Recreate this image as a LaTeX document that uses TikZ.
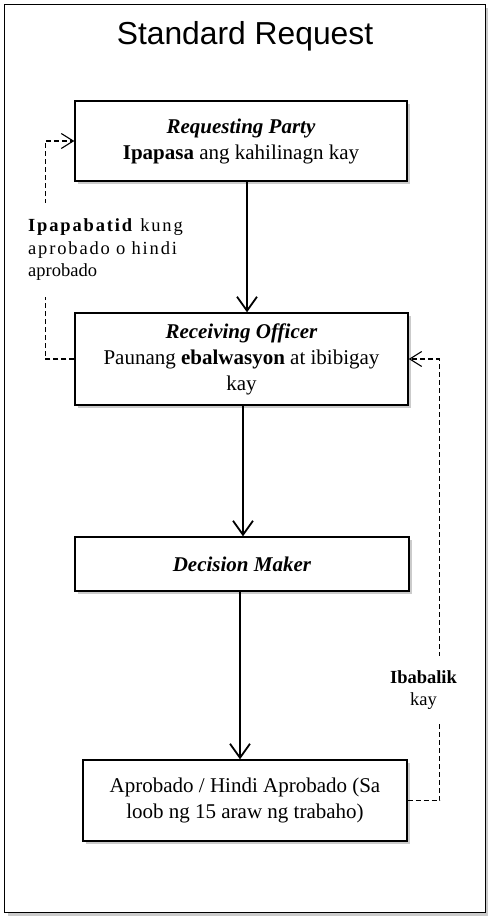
\documentclass[tikz,border=0pt]{standalone}
\usepackage{fontspec}
\setmainfont{Liberation Serif}
\newfontfamily\arialf{Liberation Sans}
\usetikzlibrary{arrows.meta,shadows}
\begin{document}
\begin{tikzpicture}[x=1pt,y=-1pt,
  shad/.style={drop shadow={shadow xshift=3pt,shadow yshift=-3pt,fill=black!45,opacity=0.45}},
  box/.style={draw, line width=1.4pt, fill=white, align=center, inner sep=0pt, shad,
    font=\fontsize{21}{26}\selectfont},
  flow/.style={line width=1.8pt, -{Straight Barb[length=14pt,width=20pt,line width=1.8pt]}},
  back/.style={line width=1.1pt, dash pattern=on 5pt off 3pt, -{Straight Barb[length=12pt,width=15pt,line width=1.1pt]}},
  lbl/.style={fill=white, inner xsep=0pt, font=\fontsize{18.5}{22.5}\selectfont}
]
\useasboundingbox (0,0) rectangle (487,920);
\node[draw, line width=1.4pt, fill=white, shad, minimum width=481pt, minimum height=908pt, inner sep=0pt, anchor=north west] (frame) at (4,4) {};
\node[font=\arialf\fontsize{31.8}{36}\selectfont, anchor=base, inner sep=0pt] (title) at (245,45) {Standard Request};
\node[box, minimum width=332pt, minimum height=80pt] (b1) at (241,141)
  {\textbf{\textit{Requesting Party}}\\\textbf{Ipapasa} ang kahilinagn kay};
\node[box, minimum width=333pt, minimum height=92pt] (b2) at (241.5,359)
  {\textbf{\textit{Receiving Officer}}\\Paunang \textbf{ebalwasyon} at ibibigay\\kay};
\node[box, minimum width=334pt, minimum height=54pt] (b3) at (242,564)
  {\textbf{\textit{Decision Maker}}};
\node[box, minimum width=324pt, minimum height=81pt] (b4) at (245,800.5)
  {Aprobado / Hindi Aprobado (Sa\\loob ng 15 araw ng trabaho)};
\draw[flow] ([xshift=6pt]b1.south) -- ([xshift=6pt]b1.south |- b2.north);
\draw[flow] ([xshift=1.5pt]b2.south) -- ([xshift=1.5pt]b2.south |- b3.north);
\draw[flow] ([xshift=-2pt]b3.south) -- ([xshift=-2pt]b3.south |- b4.north);
\draw[back] (b2.west) -| ([xshift=-29pt]b1.west) -- (b1.west);
\draw[back] (b4.east) -| ([xshift=31pt]b2.east) -- (b2.east);
\node[lbl, anchor=west, text width=155pt, align=left, inner ysep=16pt] (l1) at (28,250)
  {{\addfontfeature{LetterSpace=10}\makebox[155pt][s]{\textbf{Ipapabatid} kung}}\\
   {\addfontfeature{LetterSpace=10}\makebox[155pt][s]{aprobado o hindi}}\\
   aprobado};
\node[lbl, align=center, inner xsep=2pt, inner ysep=14pt] (l2) at (423.5,690)
  {\textbf{Ibabalik}\\kay};
\end{tikzpicture}
\end{document}
